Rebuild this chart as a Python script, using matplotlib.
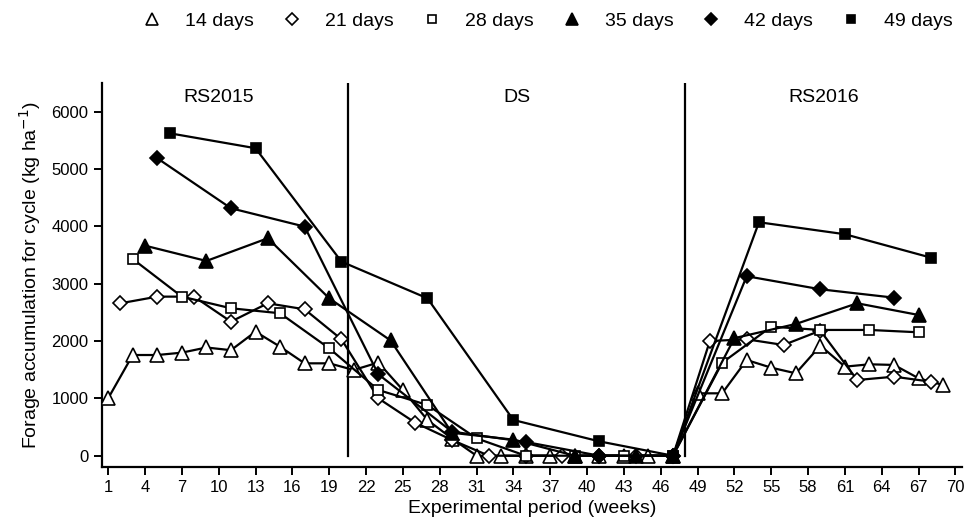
import matplotlib.pyplot as plt

plt.rcParams['font.family'] = ['Liberation Sans', 'DejaVu Sans']

# cutting intervals (weeks) and forage accumulation (kg/ha)
w14 = [1, 3, 5, 7, 9, 11, 13, 15, 17, 19, 21, 23, 25, 27, 29, 31, 33, 35, 37, 39, 41, 43, 45, 47,
       49, 51, 53, 55, 57, 59, 61, 63, 65, 67, 69]
v14 = [1000, 1756, 1756, 1797, 1887, 1840, 2163, 1901, 1611, 1611, 1495, 1625, 1146, 623, 300,
       0, 0, 0, 0, 0, 0, 0, 0, 0,
       1088, 1088, 1669, 1535, 1437, 1919, 1553, 1594, 1583, 1350, 1233]

w21 = [2, 5, 8, 11, 14, 17, 20, 23, 26, 29, 32, 35, 38, 41, 44, 47, 50, 53, 56, 59, 62, 65, 68]
v21 = [2658, 2774, 2774, 2338, 2658, 2553, 2030, 1001, 576, 274, 0, 0, 0, 0, 0, 0,
       2000, 2030, 1931, 2181, 1320, 1378, 1291]

w28 = [3, 7, 11, 15, 19, 23, 27, 31, 35, 39, 43, 47, 51, 55, 59, 63, 67]
v28 = [3431, 2774, 2571, 2484, 1873, 1146, 884, 303, 0, 0, 0, 0, 1620, 2250, 2193, 2193, 2152]

w35 = [4, 9, 14, 19, 24, 29, 34, 39, 44, 47, 52, 57, 62, 67]
v35 = [3663, 3396, 3792, 2745, 2010, 400, 280, 0, 0, 0, 2050, 2297, 2658, 2454]

w42 = [5, 11, 17, 23, 29, 35, 41, 47, 53, 59, 65]
v42 = [5187, 4315, 3995, 1420, 420, 240, 0, 0, 3130, 2902, 2756]

w49 = [6, 13, 20, 27, 34, 41, 47, 54, 61, 68]
v49 = [5623, 5362, 3384, 2745, 623, 250, 0, 4071, 3862, 3454]

labels = ['14 days', '21 days', '28 days', '35 days', '42 days', '49 days']
periods = ['RS2015', 'DS', 'RS2016']
period_x = [10, 34.25, 59.25]
breaks = [20.5, 48]

fig = plt.figure(figsize=(9.68, 5.25), dpi=100)
ax = fig.add_axes([0.105, 0.111, 0.889, 0.731])

series = [
    (w14, v14, '^', 'white', 9.5),
    (w21, v21, 'D', 'white', 7),
    (w28, v28, 's', 'white', 7.5),
    (w35, v35, '^', 'black', 9.5),
    (w42, v42, 'D', 'black', 7),
    (w49, v49, 's', 'black', 7.5),
]
for (x, y, m, fc, ms), lab in zip(series, labels):
    ax.plot(x, y, color='black', lw=1.6, marker=m, mfc=fc, mec='black',
            mew=1.2, ms=ms, label=lab, zorder=3)

# season boundaries
for b in breaks:
    ax.plot([b, b], [0, 6500], color='black', lw=1.6, zorder=2)

for px, name in zip(period_x, periods):
    ax.text(px, 6250, name, ha='center', va='center', fontsize=14)

ax.set_xlim(0.47, 70.55)
ax.set_ylim(-192, 6500)
ax.set_xticks(range(1, 71, 3))
ax.set_yticks(range(0, 6001, 1000))
for s in ['top', 'right']:
    ax.spines[s].set_visible(False)
for s in ['left', 'bottom']:
    ax.spines[s].set_linewidth(1.6)
ax.tick_params(direction='out', length=6, width=1.4, labelsize=12)
ax.set_xlabel('Experimental period (weeks)', fontsize=14, labelpad=4)
ax.set_ylabel('Forage accumulation for cycle (kg ha$^{-1}$)', fontsize=14, labelpad=6)

# legend with markers only
leg_h = []
for (x, y, m, fc, ms) in series:
    h, = ax.plot([], [], ls='none', marker=m, mfc=fc, mec='black', mew=1.2, ms=ms * 0.85)
    leg_h.append(h)
fig.legend(leg_h, labels, loc='center', bbox_to_anchor=(0.566, 0.96), ncol=6,
           frameon=False, fontsize=14, handlelength=1.0, handletextpad=1.2,
           columnspacing=1.45)

fig.savefig('out.png', dpi=100)
